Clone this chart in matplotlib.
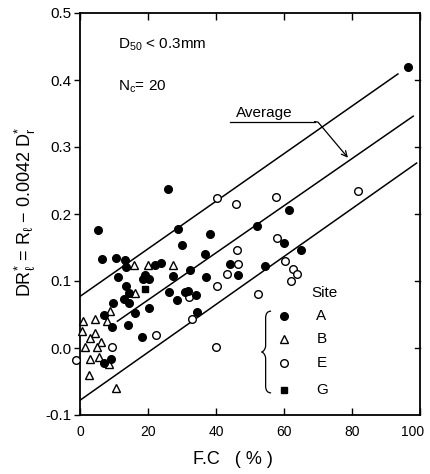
import matplotlib
matplotlib.use('Agg')
import matplotlib.pyplot as plt
import matplotlib.transforms as mtransforms
from matplotlib.path import Path
from matplotlib.patches import PathPatch

plt.rcParams['font.family'] = ['Liberation Sans', 'DejaVu Sans']
plt.rcParams['axes.unicode_minus'] = False
plt.rcParams['mathtext.fontset'] = 'custom'
plt.rcParams['mathtext.rm'] = 'Liberation Sans'
plt.rcParams['mathtext.it'] = 'Liberation Sans'

# Site A (filled circles)
a_fc = [5.3, 25.9, 28.7, 30.0, 38.2, 52.0, 36.8, 60.0, 61.5, 65.0, 96.5,
        6.5, 10.5, 13.2, 13.5, 22.0, 23.8, 11.3, 19.1, 18.5, 20.3, 27.4,
        13.5, 26.2, 28.5, 30.9, 31.8, 34.1, 14.3, 12.9, 14.3, 9.8, 7.1,
        16.3, 20.3, 9.3, 14.1, 18.2, 7.1, 9.2, 32.4, 37.0, 34.4, 44.1,
        46.5, 54.4]
a_dr = [0.176, 0.237, 0.178, 0.154, 0.170, 0.182, 0.140, 0.156, 0.206, 0.146, 0.419,
        0.133, 0.134, 0.131, 0.121, 0.124, 0.127, 0.106, 0.109, 0.103, 0.103, 0.107,
        0.092, 0.083, 0.072, 0.084, 0.085, 0.079, 0.082, 0.073, 0.067, 0.067, 0.049,
        0.052, 0.060, 0.032, 0.034, 0.016, -0.022, -0.016, 0.116, 0.106, 0.054, 0.125,
        0.109, 0.122]

# Site B (open triangles)
b_fc = [15.9, 20.0, 27.4, 16.3, 8.8, 1.0, 4.5, 7.9, 0.6, 4.5, 2.9, 6.2, 5.0,
        1.4, 2.9, 5.6, 8.5, 2.6, 10.7]
b_dr = [0.124, 0.124, 0.124, 0.082, 0.055, 0.040, 0.043, 0.041, 0.025, 0.022,
        0.015, 0.009, 0.002, 0.002, -0.017, -0.013, -0.024, -0.040, -0.059]

# Site E (open circles)
e_fc = [40.3, 45.9, 57.7, 81.9, 46.2, 57.9, 60.3, 62.6, 63.8, 62.1, 46.5, 43.2,
        40.3, 52.4, 32.1, 32.9, 40.0, 22.4, 9.3, -1.2]
e_dr = [0.224, 0.215, 0.226, 0.235, 0.146, 0.164, 0.130, 0.118, 0.110, 0.100,
        0.125, 0.110, 0.093, 0.081, 0.076, 0.043, 0.002, 0.019, 0.002, -0.018]

# Site G (filled squares)
g_fc = [19.1]
g_dr = [0.088]

# Envelope and average lines
upper_x = [0, 93.5]
upper_y = [0.077, 0.409]
avg_x = [11, 98]
avg_y = [0.040, 0.346]
lower_x = [0, 99]
lower_y = [-0.078, 0.276]

fig = plt.figure(figsize=(4.3, 4.74), dpi=100)
ax = fig.add_axes([80 / 430, 59 / 474, 340 / 430, 402 / 474])
ax.set_xlim(0, 100)
ax.set_ylim(-0.1, 0.5)

lw = 1.1
for xs, ys in [(upper_x, upper_y), (avg_x, avg_y), (lower_x, lower_y)]:
    ax.plot(xs, ys, color='black', lw=lw, zorder=2)

ms = 5.5
ax.plot(a_fc, a_dr, 'o', ms=ms, color='black', zorder=4, clip_on=False)
ax.plot(b_fc, b_dr, '^', ms=6, mfc='white', mec='black', mew=1.0, zorder=3, clip_on=False)
ax.plot(e_fc, e_dr, 'o', ms=5.5, mfc='white', mec='black', mew=1.0, zorder=3, clip_on=False)
ax.plot(g_fc, g_dr, 's', ms=5, color='black', zorder=4, clip_on=False)

# Annotations
ax.text(11.2, 0.452, r'D$_{50}$ < 0.3mm', fontsize=11, va='center', ha='left')
ax.text(11.2, 0.390, r'N$_{\rm c}$= 20', fontsize=11, va='center', ha='left')

ax.text(46, 0.351, 'Average', fontsize=11, va='center', ha='left')
ax.plot([44, 69], [0.338, 0.338], color='black', lw=0.9)
ax.annotate('', xy=(78.8, 0.284), xytext=(69, 0.338),
            arrowprops=dict(arrowstyle='->', color='black', lw=0.9,
                            connectionstyle='angle,angleA=-10,angleB=-50,rad=0',
                            shrinkA=0, shrinkB=0))

# Legend drawn inside the axes
ax.text(68, 0.082, 'Site', fontsize=11, va='center', ha='left')
leg_y = [0.048, 0.013, -0.022, -0.062]
leg_lab = ['A', 'B', 'E', 'G']
ax.plot(60, leg_y[0], 'o', ms=ms, color='black')
ax.plot(60, leg_y[1], '^', ms=6, mfc='white', mec='black', mew=1.0)
ax.plot(60, leg_y[2], 'o', ms=5.5, mfc='white', mec='black', mew=1.0)
ax.plot(60, leg_y[3], 's', ms=5, color='black')
for y, lab in zip(leg_y, leg_lab):
    ax.text(69.5, y, lab, fontsize=11, va='center', ha='left')

# Curly brace
bx, bm = 54.6, 53.4
verts = [(56.2, 0.055), (bx, 0.055), (bx, 0.045),
         (bx, 0.004),
         (bx, -0.002), (bm + 0.4, -0.006), (bm, -0.006),
         (bm + 0.4, -0.006), (bx, -0.010), (bx, -0.016),
         (bx, -0.057),
         (bx, -0.067), (56.2, -0.067)]
codes = [Path.MOVETO, Path.CURVE3, Path.CURVE3,
         Path.LINETO,
         Path.CURVE4, Path.CURVE4, Path.CURVE4,
         Path.CURVE4, Path.CURVE4, Path.CURVE4,
         Path.LINETO,
         Path.CURVE3, Path.CURVE3]
ax.add_patch(PathPatch(Path(verts, codes), fill=False, lw=0.9, color='black'))

# Axes styling
ax.set_xticks([0, 20, 40, 60, 80, 100])
ax.set_yticks([-0.1, 0.0, 0.1, 0.2, 0.3, 0.4, 0.5])
ax.set_yticklabels(['-0.1', '0.0', '0.1', '0.2', '0.3', '0.4', '0.5'])
ax.tick_params(axis='x', direction='in', top=True, length=5, width=1, labelsize=10, pad=7)
ax.tick_params(axis='y', direction='out', length=4, width=1, labelsize=11, pad=2)
ax.tick_params(axis='y', which='both', right=False)
for y in [0.0, 0.1, 0.2, 0.3, 0.4]:
    ax.plot([98.5, 100], [y, y], color='black', lw=1, clip_on=False)
for s in ax.spines.values():
    s.set_linewidth(1.3)

# nudge the last x tick label so it stays inside the figure
last = ax.get_xticklabels()[-1]
last.set_transform(last.get_transform() +
                   mtransforms.ScaledTranslation(-5 / 72, 0, fig.dpi_scale_trans))

fig.text(233 / 430, 1 - 460 / 474, 'F.C   ( % )', fontsize=13, ha='center', va='center')
fig.text(25 / 430, 1 - 212 / 474, r'DR$_{\ell}^{*}$ = R$_{\ell}$ $-$ 0.0042 D$_{\rm r}^{*}$',
         fontsize=13, rotation=90, ha='center', va='center')

fig.savefig('out.png', dpi=100)
